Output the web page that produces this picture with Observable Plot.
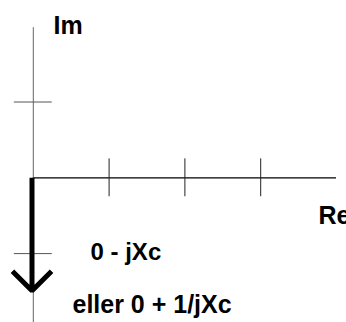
<!DOCTYPE html>
<html>
<head>
<meta charset="utf-8">
<script src="https://cdn.jsdelivr.net/npm/d3@7"></script>
<script src="https://cdn.jsdelivr.net/npm/@observablehq/plot@0.6"></script>
<style>
  html, body { margin: 0; padding: 0; background: #fff; }
  svg { display: block; }
</style>
</head>
<body>
<div id="chart"></div>
<script>
// Data (complex plane, unit = one tick)
const reTicks = [1, 2, 3];
const imTicks = [1, -1];
const reAxisExtent = [0, 4.0];
const imAxisExtent = [-1.91, 1.98];
const phasor = [{re0: 0, im0: 0, re: 0, im: -1.49}];
const axisNames = ["Re", "Im"];
const phasorLabels = ["0 - jXc", "eller 0 + 1/jXc"];

const W = 346, H = 322;
const unit = 75.8, ox = 32.8, oy = 177.3;

const font = "'Liberation Sans', Arial, sans-serif";

const chart = Plot.plot({
  width: W,
  height: H,
  margin: 0,
  style: {background: "#fff", fontFamily: font},
  x: {domain: [-ox / unit, (W - ox) / unit], axis: null},
  y: {domain: [(oy - H) / unit, oy / unit], axis: null},
  marks: [
    // real axis
    Plot.ruleY([0], {x1: reAxisExtent[0], x2: reAxisExtent[1], stroke: "#000", strokeWidth: 1.2}),
    // imaginary axis
    Plot.ruleX([0], {y1: imAxisExtent[0], y2: imAxisExtent[1], stroke: "#666", strokeWidth: 1}),
    // ticks
    Plot.ruleX(reTicks, {x: d => d, y1: -0.25, y2: 0.25, stroke: "#222", strokeWidth: 1}),
    Plot.ruleY(imTicks, {y: d => d, x1: -0.25, x2: 0.25, stroke: "#555", strokeWidth: 1}),
    // phasor arrow
    Plot.arrow(phasor, {
      x1: "re0", y1: "im0", x2: "re", y2: "im",
      stroke: "#000", strokeWidth: 5, headAngle: 90, headLength: 8.3,
      strokeLinejoin: "miter", strokeLinecap: "butt", dx: -1.3
    }),
    // axis names
    Plot.text([axisNames[1]], {x: 0.266, y: 1.891, text: d => d, textAnchor: "start", lineAnchor: "bottom",
      fontSize: 25, fontWeight: "bold", fill: "#000"}),
    Plot.text([axisNames[0]], {x: 3.763, y: -0.603, text: d => d, textAnchor: "start", lineAnchor: "bottom",
      fontSize: 25, fontWeight: "bold", fill: "#000"}),
    // phasor labels
    Plot.text([phasorLabels[0]], {x: 0.755, y: -1.091, text: d => d, textAnchor: "start", lineAnchor: "bottom",
      fontSize: 24, fontWeight: "bold", fill: "#000"}),
    Plot.text([phasorLabels[1]], {x: 0.517, y: -1.79, text: d => d, textAnchor: "start", lineAnchor: "bottom",
      fontSize: 25, fontWeight: "bold", fill: "#000"})
  ]
});

document.getElementById("chart").appendChild(chart);
</script>
</body>
</html>
